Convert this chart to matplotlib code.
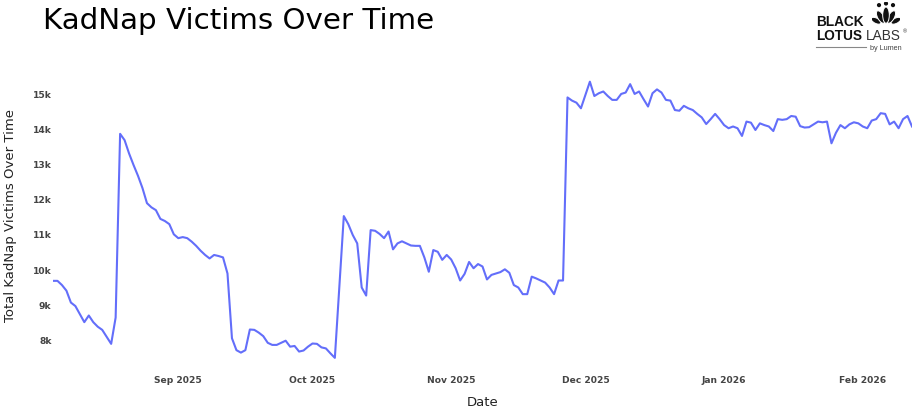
import numpy as np
import pandas as pd
import matplotlib
matplotlib.use("Agg")
import matplotlib.pyplot as plt
from matplotlib.patches import Ellipse


# Daily totals, 2025-08-04 .. 2026-02-12
START_DATE = "2025-08-04"
END_DATE = "2026-02-12"
MISSING_DAYS = ["2025-10-07"]  # no point on this day, the line jumps over it

victims = [
    # Aug 4 - Sep 21
    9690, 9690, 9570, 9410, 9070, 8970, 8740, 8510, 8700, 8510,
    8380, 8290, 8090, 7890, 8640, 13890, 13710, 13330, 13000, 12690,
    12340, 11910, 11790, 11710, 11460, 11400, 11310, 11020, 10910, 10940,
    10910, 10810, 10690, 10550, 10430, 10330, 10430, 10400, 10360, 9900,
    8050, 7710, 7640, 7710, 8300, 8290, 8210, 8110, 7920,
    # Sep 22 - Nov 8
    7860, 7860, 7920, 7980, 7810, 7830, 7670, 7700, 7810, 7900,
    7890, 7790, 7760, 7620, 7490, 11540, 11310, 11000, 10760, 9500,
    9270, 11140, 11120, 11030, 10910, 11100, 10590, 10760, 10820, 10760,
    10700, 10690, 10690, 10360, 9950, 10570, 10520, 10290, 10430, 10300,
    10050, 9700, 9890, 10230, 10050, 10170, 10100,
    # Nov 9 - Dec 27
    9730, 9860, 9900, 9940, 10020, 9920, 9570, 9500, 9310, 9310,
    9810, 9760, 9700, 9640, 9500, 9310, 9700, 9700, 14930, 14840,
    14780, 14620, 15000, 15380, 14970, 15050, 15100, 14970, 14860, 14860,
    15030, 15070, 15310, 15030, 15100, 14880, 14670, 15050, 15160, 15070,
    14860, 14840, 14570, 14550, 14690, 14620, 14570, 14460, 14360,
    # Dec 28 - Feb 12
    14170, 14310, 14460, 14310, 14140, 14050, 14100, 14050, 13830, 14240,
    14210, 14000, 14190, 14140, 14100, 13970, 14310, 14290, 14310, 14400,
    14380, 14110, 14070, 14080, 14160, 14240, 14220, 14240, 13620, 13920,
    14140, 14050, 14160, 14220, 14190, 14100, 14050, 14270, 14310, 14480,
    14460, 14160, 14240, 14050, 14310, 14400, 14100,
]

Y_TICKS = [8000, 9000, 10000, 11000, 12000, 13000, 14000, 15000]
Y_TICK_LABELS = ["8k", "9k", "10k", "11k", "12k", "13k", "14k", "15k"]
X_TICKS = ["2025-09-01", "2025-10-01", "2025-11-01",
           "2025-12-01", "2026-01-01", "2026-02-01"]
X_TICK_LABELS = ["Sep 2025", "Oct 2025", "Nov 2025",
                 "Dec 2025", "Jan 2026", "Feb 2026"]

LINE_COLOR = "#636efa"
TICK_COLOR = "#444444"

W, H = 918, 411


def fx(px):
    return px / W


def fy(py):
    return 1 - py / H


dates = pd.date_range(START_DATE, END_DATE, freq="D").drop(pd.to_datetime(MISSING_DAYS))

fig = plt.figure(figsize=(W / 100, H / 100), dpi=100)
fig.patch.set_facecolor("white")

# plot area in pixels: x 53..912, y 75..365
ax = fig.add_axes([fx(53), fy(365), fx(912) - fx(53), (365 - 75) / H])
ax.plot(dates, victims, color=LINE_COLOR, linewidth=1.5, solid_joinstyle="round")

ax.set_xlim(dates[0], dates[-1])
ax.set_ylim(7286, 15571)

ax.set_yticks(Y_TICKS)
ax.set_yticklabels(Y_TICK_LABELS)
ax.set_xticks(pd.to_datetime(X_TICKS))
ax.set_xticklabels(X_TICK_LABELS)

ax.tick_params(axis="y", length=0, pad=1, labelsize=6.6, labelcolor=TICK_COLOR)
ax.tick_params(axis="x", length=0, pad=8, labelsize=6.6, labelcolor=TICK_COLOR)
for lab in ax.get_xticklabels() + ax.get_yticklabels():
    lab.set_fontweight("bold")

for side in ax.spines.values():
    side.set_visible(False)
ax.grid(False)

# titles and axis labels
fig.text(fx(43), fy(29), "KadNap Victims Over Time", fontsize=21.2,
         color="black", va="baseline", ha="left")
fig.text(fx(482.5), fy(402), "Date", fontsize=9.5, color="#222222",
         ha="center", va="center")
fig.text(fx(11), fy(216), "Total KadNap Victims Over Time", fontsize=9.5,
         color="#222222", rotation=90, ha="center", va="center")

# Black Lotus Labs logo (top right)
fig.text(fx(816), fy(26), "BLACK", fontsize=9.8, fontweight="bold",
         family="Liberation Sans", color="#111111", va="baseline")
fig.text(fx(816), fy(40), "LOTUS", fontsize=9.8, fontweight="bold",
         family="Liberation Sans", color="#111111", va="baseline")
fig.text(fx(866), fy(40), "LABS", fontsize=9.8, fontweight="light",
         family="Liberation Sans", color="#333333", va="baseline")
fig.text(fx(903), fy(33), "®", fontsize=4, family="Liberation Sans",
         color="#333333", va="baseline")
fig.add_artist(plt.Line2D([fx(816), fx(866)], [fy(47), fy(47)],
                          color="#888888", linewidth=0.8))
fig.text(fx(870), fy(50), "by Lumen", fontsize=5.2, family="Liberation Sans",
         color="#444444", va="baseline")

logo_ax = fig.add_axes([fx(872), fy(27), 28 / W, 25 / H])
logo_ax.set_xlim(-1.1, 1.1)
logo_ax.set_ylim(0, 2.0)
logo_ax.axis("off")
petals = [
    (-0.78, 0.5, 0.42, 0.85, 62),
    (0.78, 0.5, 0.42, 0.85, -62),
    (-0.42, 0.8, 0.48, 1.1, 28),
    (0.42, 0.8, 0.48, 1.1, -28),
    (0.0, 0.95, 0.52, 1.3, 0),
]
for cx, cy, w, h, ang in petals:
    logo_ax.add_patch(Ellipse((cx, cy), w, h, angle=ang, facecolor="#111111",
                              edgecolor="white", linewidth=0.7))
for cx, cy in [(-0.55, 1.75), (0.55, 1.75), (0.0, 1.88)]:
    logo_ax.add_patch(Ellipse((cx, cy), 0.22, 0.22, color="#111111"))

fig.savefig("out.png", dpi=100)
